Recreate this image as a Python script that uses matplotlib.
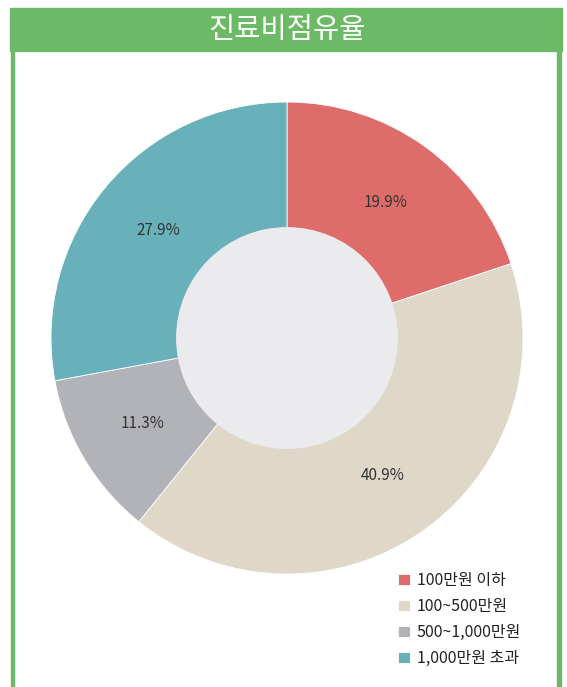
import matplotlib.pyplot as plt
from matplotlib.patches import Rectangle, Circle

plt.rcParams['font.family'] = ['Noto Sans CJK KR', 'DejaVu Sans']

title = "진료비점유율"
labels = ["100만원 이하", "100~500만원", "500~1,000만원", "1,000만원 초과"]
shares = [19.9, 40.9, 11.3, 27.9]
colors = ["#DE6C6A", "#DFD8C9", "#B1B3B8", "#68B1BB"]

W, H = 567, 687
fig = plt.figure(figsize=(W / 100, H / 100), dpi=100)

# green frame: header bar plus side lines
green = "#6DBA66"
fig.patches.append(Rectangle((10 / W, 1 - 51 / H), 552 / W, 43 / H,
                             transform=fig.transFigure, color=green, zorder=0))
fig.patches.append(Rectangle((10.5 / W, 0), 3.5 / W, 1 - 51 / H,
                             transform=fig.transFigure, color=green, zorder=0))
fig.patches.append(Rectangle((557 / W, 0), 3.5 / W, 1 - 51 / H,
                             transform=fig.transFigure, color=green, zorder=0))
fig.text(287 / W, 1 - 30 / H, title, ha="center", va="center",
         color="white", fontsize=20.5)

# donut
cx, cy, r = 287, 338, 236
ax = fig.add_axes([(cx - r) / W, (H - cy - r) / H, 2 * r / W, 2 * r / H])
wedges, texts, autotexts = ax.pie(
    shares, colors=colors, startangle=90, counterclock=False,
    autopct=lambda p: f"{p:.1f}%", pctdistance=0.71,
    wedgeprops=dict(edgecolor="white", linewidth=0.6),
    textprops=dict(color="#333333", fontsize=11))
ax.add_patch(Circle((0, 0), 0.47, facecolor="#EBEBED", edgecolor="none", zorder=5))
ax.set_xlim(-1, 1)
ax.set_ylim(-1, 1)
ax.set_aspect("auto")
ax.axis("off")

fig.legend(wedges, labels, loc="upper left",
           bbox_to_anchor=(384 / W, 1 - 558 / H), frameon=False,
           handlelength=0.7, handleheight=0.7, handletextpad=0.45,
           labelspacing=0.55, fontsize=11.5, labelcolor="#222222")

fig.savefig("out.png", dpi=100)
